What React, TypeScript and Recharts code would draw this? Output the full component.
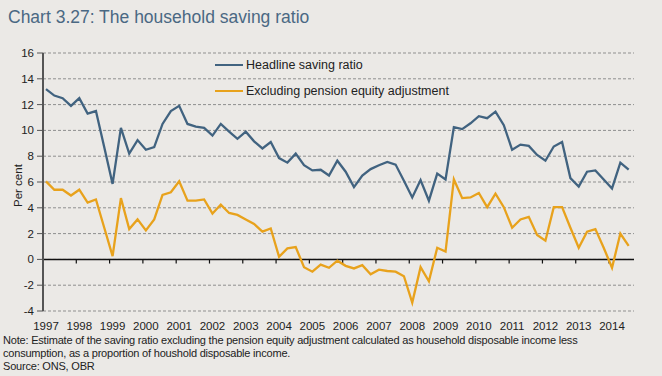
import { LineChart, Line, XAxis, YAxis, CartesianGrid, ReferenceLine } from "recharts";

// quarterly observations, 1997 Q1 onwards
const startYear = 1997;

const headline = [
  13.2, 12.7, 12.5, 11.9, 12.5, 11.3, 11.5, 8.7, 5.85, 10.2, 8.2, 9.25, 8.5, 8.7, 10.5, 11.5, 11.9, 10.5,
  10.3, 10.2, 9.6, 10.5, 9.9, 9.35, 9.9, 9.15, 8.6, 9.1, 7.85, 7.5, 8.2, 7.3, 6.9, 6.95, 6.5, 7.65,
  6.8, 5.6, 6.5, 7.0, 7.3, 7.55, 7.35, 6.1, 4.8, 6.15, 4.55, 6.65, 6.2, 10.25, 10.1, 10.55, 11.1, 10.95,
  11.45, 10.4, 8.5, 8.9, 8.8, 8.1, 7.65, 8.75, 9.1, 6.3, 5.65, 6.8, 6.9, 6.2, 5.5, 7.5, 6.95,
];

const exPension = [
  6.05, 5.4, 5.4, 4.95, 5.4, 4.4, 4.65, 2.45, 0.25, 4.75, 2.35, 3.1, 2.25, 3.1, 5.0, 5.2, 6.05, 4.55,
  4.55, 4.65, 3.55, 4.25, 3.6, 3.45, 3.1, 2.75, 2.15, 2.4, 0.2, 0.85, 0.95, -0.6, -0.95, -0.4, -0.65, -0.1,
  -0.5, -0.7, -0.45, -1.15, -0.8, -0.9, -0.95, -1.3, -3.35, -0.6, -1.7, 0.9, 0.6, 6.2, 4.75, 4.8, 5.15, 4.05,
  5.1, 4.05, 2.45, 3.1, 3.3, 1.9, 1.45, 4.05, 4.05, 2.45, 0.9, 2.15, 2.35, 0.9, -0.65, 2.0, 1.05,
];

const years = [1997, 1998, 1999, 2000, 2001, 2002, 2003, 2004, 2005, 2006, 2007, 2008, 2009, 2010, 2011, 2012, 2013, 2014];
const yTicks = [-4, -2, 0, 2, 4, 6, 8, 10, 12, 14, 16];

const BLUE = "#416380";
const GOLD = "#e8a21c";
const BG = "#ebe9e6";
const FONT = "'Liberation Sans', Arial, sans-serif";

const data = headline.map((v, i) => ({
  t: startYear + i * 0.25 + 0.09,
  headline: v,
  exPension: exPension[i],
}));

const legendItems = [
  { label: "Headline saving ratio", color: BLUE },
  { label: "Excluding pension equity adjustment", color: GOLD },
];

export default function App() {
  return (
    <div style={{ position: "absolute", left: 0, top: 0, width: 662, height: 376, background: BG, overflow: "hidden" }}>
      <div style={{ position: "absolute", left: 8, top: 7, fontFamily: FONT, fontSize: 17.5, color: "#4a6883" }}>
        Chart 3.27: The household saving ratio
      </div>

      <div style={{ position: "absolute", left: 0, top: 0 }}>
        <LineChart width={662} height={376} data={data} margin={{ top: 53, right: 28, bottom: 40, left: 0 }}>
          <CartesianGrid vertical={false} stroke="#8f8f8f" strokeDasharray="3 2" />
          <XAxis
            dataKey="t"
            type="number"
            domain={[1997, 2014.75]}
            ticks={years}
            axisLine={false}
            tickLine={false}
            tickMargin={5}
            height={25}
            interval={0}
            tick={{ fontSize: 11.5, fill: "#222", fontFamily: FONT, dx: 3 }}
          />
          <YAxis
            domain={[-4, 16]}
            ticks={yTicks}
            interval={0}
            width={43}
            axisLine={{ stroke: "#555", strokeWidth: 2 }}
            tickLine={{ stroke: "#555" }}
            tickSize={6}
            tickMargin={3}
            tick={{ fontSize: 11.5, fill: "#222", fontFamily: FONT }}
            label={{ value: "Per cent", angle: -90, position: "insideLeft", offset: 18, dy: 25, style: { fontSize: 11.5, fill: "#222", fontFamily: FONT } }}
          />
          <ReferenceLine y={0} stroke="#111" strokeWidth={1.5} />
          {years.slice(1).map((yr) => (
            <ReferenceLine key={yr} segment={[{ x: yr, y: 0 }, { x: yr, y: -0.32 }]} stroke="#111" strokeWidth={1.2} />
          ))}
          <Line type="linear" dataKey="headline" stroke={BLUE} strokeWidth={2.3} dot={false} isAnimationActive={false} />
          <Line type="linear" dataKey="exPension" stroke={GOLD} strokeWidth={2.3} dot={false} isAnimationActive={false} />
        </LineChart>
      </div>

      {/* legend sits inside the plot, top middle */}
      <div style={{ position: "absolute", left: 215, top: 52, fontFamily: FONT, fontSize: 12.5, color: "#222" }}>
        {legendItems.map((it) => (
          <div key={it.label} style={{ display: "flex", alignItems: "center", height: 26 }}>
            <span style={{ display: "inline-block", width: 28, height: 2, background: it.color, marginRight: 3 }} />
            <span>{it.label}</span>
          </div>
        ))}
      </div>

      <div style={{ position: "absolute", left: 3, top: 334, fontFamily: FONT, fontSize: 11, lineHeight: "13px", color: "#222", letterSpacing: -0.2 }}>
        <div>Note: Estimate of the saving ratio excluding the pension equity adjustment calculated as household disposable income less</div>
        <div>consumption, as a proportion of houshold disposable income.</div>
        <div>Source: ONS, OBR</div>
      </div>
    </div>
  );
}
